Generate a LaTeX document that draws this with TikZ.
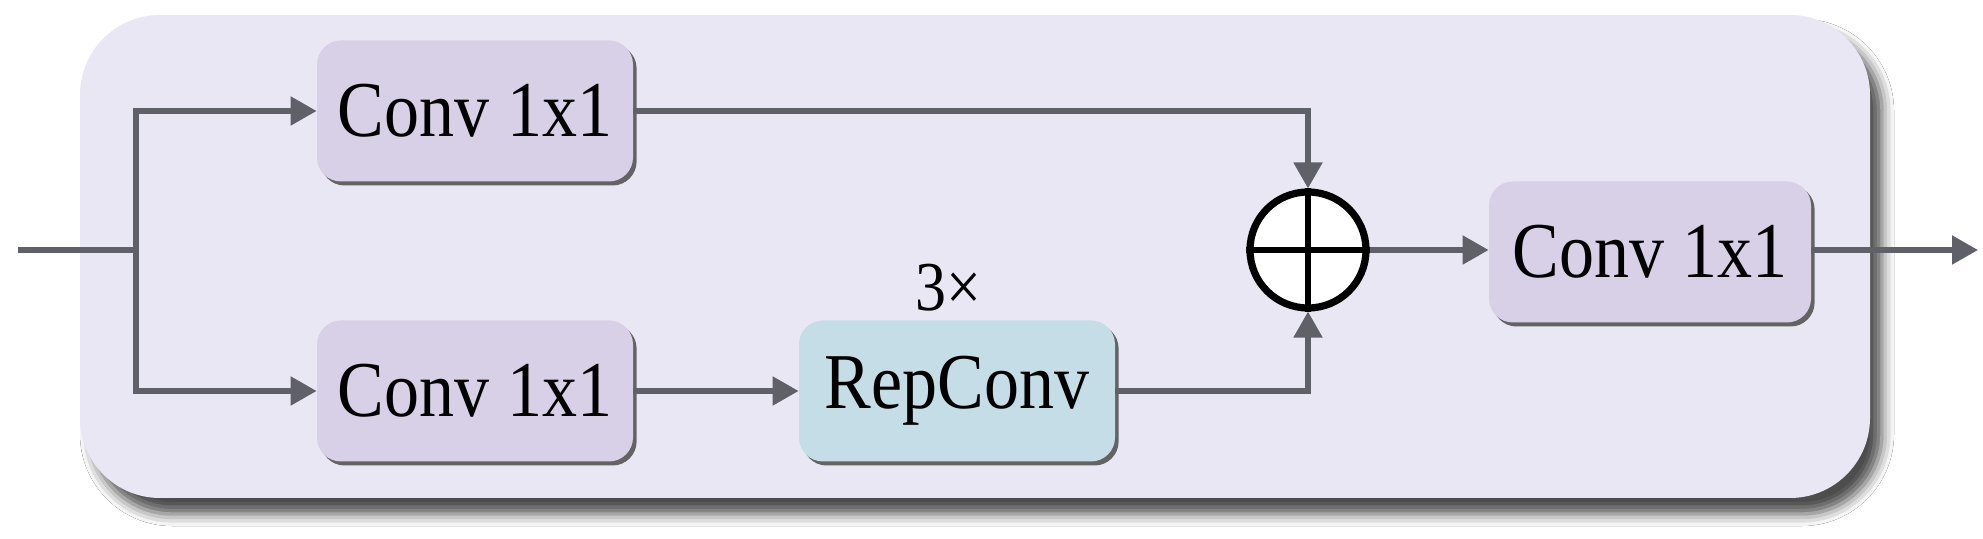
\documentclass[tikz,border=0pt]{standalone}
\usepackage{graphicx}
\usepackage{fontspec}
\setmainfont{Liberation Serif}
\usetikzlibrary{arrows.meta,shadows,shadows.blur}
\definecolor{outerbg}{HTML}{E8E7F3}
\definecolor{convfill}{HTML}{D7D0E6}
\definecolor{repfill}{HTML}{C4DDE7}
\definecolor{linegray}{HTML}{606068}
\newcommand{\talltext}[1]{\scalebox{1}[1.13]{#1}}
\tikzset{
  block/.style={rounded corners=12pt, minimum width=158pt, minimum height=70.5pt, inner sep=0pt,
    font=\fontsize{35}{40}\selectfont,
    drop shadow={shadow xshift=1.8pt, shadow yshift=-2pt, fill=black!70, opacity=0.85}},
  convbox/.style={block, fill=convfill},
  repbox/.style={block, fill=repfill},
  conn/.style={draw=linegray, line width=2.6pt, -{Triangle[length=13pt,width=14pt]}},
  plainline/.style={draw=linegray, line width=2.6pt},
  framebox/.style={fill=outerbg, rounded corners=40pt, minimum width=895pt, minimum height=241.5pt, inner sep=0pt,
    blur shadow={shadow xshift=6pt, shadow yshift=-8pt, shadow blur radius=6pt, shadow opacity=70}},
  addnode/.style={circle, draw=black, fill=white, line width=3.6pt, minimum size=58pt, inner sep=0pt},
  labeltext/.style={font=\fontsize{31}{36}\selectfont, inner sep=0pt},
}
\begin{document}
\begin{tikzpicture}[x=0.5pt,y=-0.5pt]
\useasboundingbox (0,0) rectangle (1983,539);
\fill[white] (0,0) rectangle (1983,539);
\node[framebox] (frame) at (975,256.5) {};
\node[convbox] (c1) at (475,111) {\talltext{Conv 1x1}};
\node[convbox] (c2) at (475,391) {\talltext{Conv 1x1}};
\node[repbox] (rep) at (957,391) {\talltext{RepConv}};
\node[labeltext] (lbl) at (948,288) {\talltext{3×}};
\node[addnode] (add) at (1308,250) {};
\node[convbox, minimum width=161pt] (c3) at (1650,252) {\talltext{Conv 1x1}};
\coordinate (in) at (18,250);
\coordinate (J) at (136,250);
\coordinate (out) at (1978,250);
\draw[black, line width=2.7pt] (add.north) -- (add.south) (add.west) -- (add.east);
\draw[plainline] (in) -- (J);
\draw[conn] (J) |- (c1.west);
\draw[conn] (J) |- (c2.west);
\draw[conn] (c2) -- (rep);
\draw[conn] (c1.east) -| (add.north);
\draw[conn] (rep.east) -| (add.south);
\draw[conn] (add) -- (add -| c3.west);
\draw[conn] (add -| c3.east) -- (out);
\end{tikzpicture}
\end{document}
